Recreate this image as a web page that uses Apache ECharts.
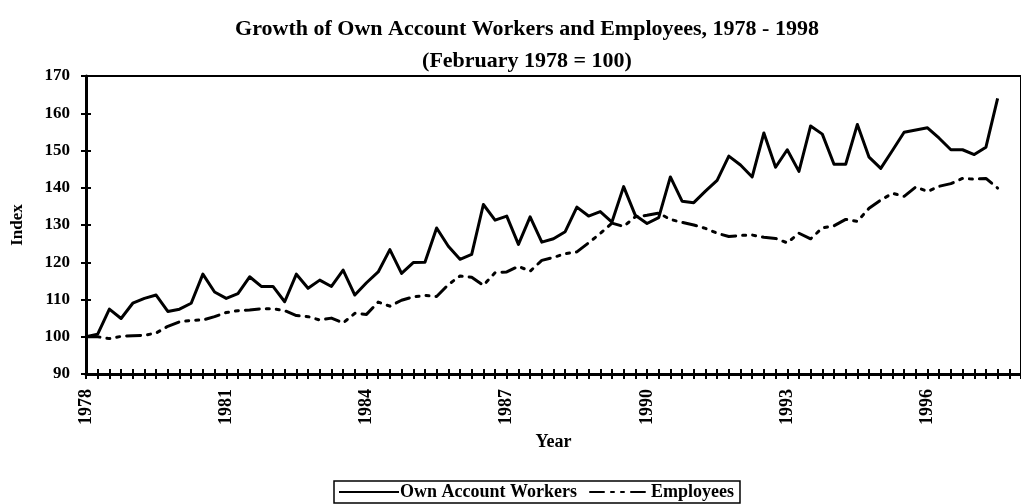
<!DOCTYPE html>
<html>
<head>
<meta charset="utf-8">
<script src="https://cdn.jsdelivr.net/npm/echarts@6/dist/echarts.min.js"></script>
<style>
html,body{margin:0;padding:0;background:#fff;}
#chart{width:1021px;height:504px;}
</style>
</head>
<body>
<div id="chart"></div>
<script>
// Quarterly survey dates (Feb, May, Aug, Nov), February 1978 to February 1998
const categories = [
 'Feb 1978','May 1978','Aug 1978','Nov 1978','Feb 1979','May 1979','Aug 1979','Nov 1979',
 'Feb 1980','May 1980','Aug 1980','Nov 1980','Feb 1981','May 1981','Aug 1981','Nov 1981',
 'Feb 1982','May 1982','Aug 1982','Nov 1982','Feb 1983','May 1983','Aug 1983','Nov 1983',
 'Feb 1984','May 1984','Aug 1984','Nov 1984','Feb 1985','May 1985','Aug 1985','Nov 1985',
 'Feb 1986','May 1986','Aug 1986','Nov 1986','Feb 1987','May 1987','Aug 1987','Nov 1987',
 'Feb 1988','May 1988','Aug 1988','Nov 1988','Feb 1989','May 1989','Aug 1989','Nov 1989',
 'Feb 1990','May 1990','Aug 1990','Nov 1990','Feb 1991','May 1991','Aug 1991','Nov 1991',
 'Feb 1992','May 1992','Aug 1992','Nov 1992','Feb 1993','May 1993','Aug 1993','Nov 1993',
 'Feb 1994','May 1994','Aug 1994','Nov 1994','Feb 1995','May 1995','Aug 1995','Nov 1995',
 'Feb 1996','May 1996','Aug 1996','Nov 1996','Feb 1997','May 1997','Aug 1997','Nov 1997',
 'Feb 1998'
];
// Index values, February 1978 = 100
const ownAccountWorkers = [
 100.0,100.7,107.4,104.9,109.0,110.3,111.2,106.8,107.4,109.0,
 116.8,112.0,110.3,111.6,116.1,113.5,113.5,109.4,116.8,113.0,
 115.2,113.5,117.9,111.2,114.5,117.4,123.4,117.0,119.9,120.0,
 129.2,124.3,120.8,122.1,135.5,131.3,132.4,124.8,132.2,125.4,
 126.3,128.2,134.8,132.4,133.6,130.8,140.3,132.6,130.4,132.0,
 142.9,136.4,136.0,139.1,142.0,148.5,146.1,142.9,154.7,145.5,
 150.2,144.4,156.6,154.4,146.3,146.3,157.0,148.2,145.2,150.0,
 154.9,155.5,156.1,153.3,150.2,150.2,148.9,150.9,164.0,null,null
];
const employees = [
 100.0,100.0, 99.5,100.1,100.3,100.4,101.0,102.8,104.0,104.4,
 104.5,105.4,106.5,107.0,107.2,107.5,107.5,107.0,105.7,105.4,
 104.5,105.0,103.7,106.3,106.0,109.3,108.2,109.8,110.7,111.1,
 110.8,114.0,116.3,116.0,113.8,117.2,117.4,118.9,117.6,120.5,
 121.3,122.3,122.8,125.2,127.7,130.5,129.6,132.2,132.6,133.2,
 131.5,130.7,130.0,129.1,127.8,126.9,127.2,127.3,126.7,126.4,
 125.2,127.8,126.3,129.2,129.8,131.5,131.0,134.5,136.7,138.5,
 137.7,140.2,139.0,140.4,141.1,142.5,142.3,142.5,139.9,null,null
];
const seriesNames = ['Own Account Workers', 'Employees'];
const yTicks = {min: 90, max: 170, step: 10};

const serif = '"Liberation Serif", "DejaVu Serif", serif';
const chart = echarts.init(document.getElementById('chart'), null, {renderer: 'canvas'});

const xBase = {
  type: 'category', data: categories, boundaryGap: false, gridIndex: 0
};
const yBase = {
  type: 'value', min: yTicks.min, max: yTicks.max, interval: yTicks.step, gridIndex: 0
};

chart.setOption({
  animation: false,
  backgroundColor: '#fff',
  title: [{
    text: 'Growth of Own Account Workers and Employees, 1978 - 1998',
    left: 522, top: 13, textAlign: 'center',
    textStyle: {fontFamily: serif, fontWeight: 'bold', fontSize: 22, color: '#000'}
  }, {
    text: '(February 1978 = 100)',
    left: 522, top: 45, textAlign: 'center',
    textStyle: {fontFamily: serif, fontWeight: 'bold', fontSize: 22, color: '#000'}
  }],
  legend: {
    left: 334, top: 481,
    data: seriesNames,
    backgroundColor: '#fff',
    borderColor: '#000', borderWidth: 1.5, borderRadius: 0,
    padding: [2, 6, 2, 4],
    itemWidth: 60, itemHeight: 12, itemGap: 12,
    itemStyle: {opacity: 0},
    textStyle: {fontFamily: serif, fontWeight: 'bold', fontSize: 18, color: '#000', padding: [0, 0, 0, -4]}
  },
  grid: {
    left: 86, right: -5, top: 76, bottom: 130,
    show: true, borderColor: '#000', borderWidth: 2, backgroundColor: 'transparent'
  },
  xAxis: [
    Object.assign({}, xBase, {
      name: 'Year', nameLocation: 'middle', nameGap: 58,
      nameTextStyle: {fontFamily: serif, fontWeight: 'bold', fontSize: 18, color: '#000'},
      axisLine: {show: true, lineStyle: {color: '#000', width: 3}},
      axisTick: {show: true, interval: 0, length: 5, lineStyle: {color: '#000', width: 2}},
      axisLabel: {
        interval: 11, rotate: 90, margin: 15, color: '#000',
        fontFamily: serif, fontWeight: 'bold', fontSize: 18,
        formatter: v => v.slice(-4)
      },
      splitLine: {show: false}
    }),
    Object.assign({}, xBase, {
      position: 'bottom',
      axisLine: {show: false},
      axisTick: {show: true, inside: true, interval: 0, length: 5, lineStyle: {color: '#000', width: 2}},
      axisLabel: {show: false},
      splitLine: {show: false}
    })
  ],
  yAxis: [
    Object.assign({}, yBase, {
      name: 'Index', nameLocation: 'middle', nameGap: 60, nameRotate: 90,
      nameTextStyle: {fontFamily: serif, fontWeight: 'bold', fontSize: 17, color: '#000'},
      axisLine: {show: true, lineStyle: {color: '#000', width: 3}},
      axisTick: {show: true, length: 5, lineStyle: {color: '#000', width: 2}},
      axisLabel: {margin: 16, color: '#000', fontFamily: serif, fontWeight: 'bold', fontSize: 17},
      splitLine: {show: false}
    }),
    Object.assign({}, yBase, {
      position: 'left',
      axisLine: {show: false},
      axisTick: {show: true, inside: true, length: 5, lineStyle: {color: '#000', width: 2}},
      axisLabel: {show: false},
      splitLine: {show: false}
    })
  ],
  series: [{
    name: seriesNames[0], type: 'line', data: ownAccountWorkers,
    xAxisIndex: 0, yAxisIndex: 0,
    symbol: 'none', smooth: false, connectNulls: false,
    itemStyle: {color: '#000'},
    lineStyle: {color: '#000', width: 3, type: 'solid', join: 'round'}
  }, {
    name: seriesNames[1], type: 'line', data: employees,
    xAxisIndex: 0, yAxisIndex: 0,
    symbol: 'none', smooth: false, connectNulls: false,
    itemStyle: {color: '#000'},
    lineStyle: {color: '#000', width: 3, type: [14, 7, 3, 7, 3, 7], cap: 'round', join: 'round'}
  }]
});
</script>
</body>
</html>
